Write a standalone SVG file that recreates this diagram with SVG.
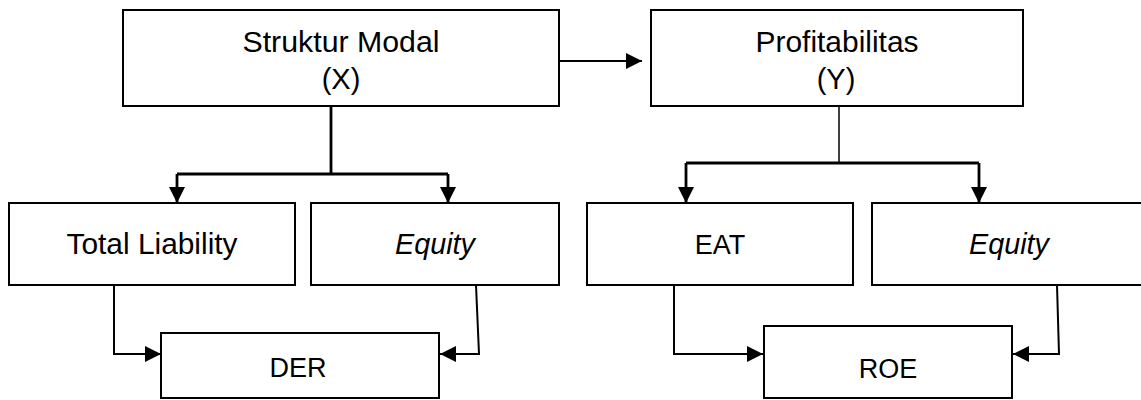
<svg xmlns="http://www.w3.org/2000/svg" width="1141" height="400" viewBox="0 0 1141 400">
<style>
.box{fill:#fff;stroke:#000;stroke-width:2}
.t{font-family:"Liberation Sans",Arial,sans-serif;font-size:29px;fill:#000;text-anchor:middle}
.s{font-size:27px}
.i{font-style:italic}
.c{fill:none;stroke:#000;stroke-width:2}
.ct{fill:none;stroke:#000;stroke-width:2.8}
.cn{fill:none;stroke:#000;stroke-width:1.5}
</style>
<defs>
<marker id="ah" markerUnits="userSpaceOnUse" markerWidth="17" markerHeight="17" refX="16" refY="8" orient="auto">
<path d="M0,0 L16,8 L0,16 z" fill="#000"/>
</marker>
</defs>
<rect width="1141" height="400" fill="#fff"/>
<g id="connectors">
<path class="ct" d="M331,106 V174"/>
<path class="ct" d="M177,174 H448"/>
<path class="ct" d="M177,174 V203" marker-end="url(#ah)"/>
<path class="ct" d="M448,174 V203" marker-end="url(#ah)"/>
<path class="c" d="M559,61 H642" marker-end="url(#ah)"/>
<path class="cn" d="M839,106 V163"/>
<path class="ct" d="M686,163 H979"/>
<path class="ct" d="M686,163 V203" marker-end="url(#ah)"/>
<path class="ct" d="M979,163 V203" marker-end="url(#ah)"/>
<path class="c" d="M114,285 V354 H161" marker-end="url(#ah)"/>
<path class="c" d="M476,285 L479,354 H440" marker-end="url(#ah)"/>
<path class="c" d="M674,285 V354 H763" marker-end="url(#ah)"/>
<path class="c" d="M1057,285 L1059,354 H1013" marker-end="url(#ah)"/>
</g>
<g id="struktur-modal">
<rect class="box" x="123" y="10" width="436" height="96"/>
<text class="t" x="341" y="52" textLength="197" lengthAdjust="spacingAndGlyphs">Struktur Modal</text>
<text class="t" x="341" y="89">(X)</text>
</g>
<g id="profitabilitas">
<rect class="box" x="651" y="10" width="372" height="96"/>
<text class="t" x="837" y="52" textLength="163" lengthAdjust="spacingAndGlyphs">Profitabilitas</text>
<text class="t" x="836" y="89">(Y)</text>
</g>
<g id="total-liability">
<rect class="box" x="9" y="203" width="286" height="82"/>
<text class="t" x="152" y="254" textLength="171" lengthAdjust="spacingAndGlyphs">Total Liability</text>
</g>
<g id="equity-left">
<rect class="box" x="311" y="203" width="248" height="82"/>
<text class="t i" x="435" y="254" textLength="80" lengthAdjust="spacingAndGlyphs">Equity</text>
</g>
<g id="eat">
<rect class="box" x="587" y="203" width="266" height="82"/>
<text class="t s" x="720" y="254">EAT</text>
</g>
<g id="equity-right">
<rect class="box" x="872" y="203" width="275" height="82"/>
<text class="t i" x="1009" y="254" textLength="80" lengthAdjust="spacingAndGlyphs">Equity</text>
</g>
<g id="der">
<rect class="box" x="161" y="333" width="278" height="65"/>
<text class="t s" x="298" y="377">DER</text>
</g>
<g id="roe">
<rect class="box" x="764" y="326" width="248" height="72"/>
<text class="t s" x="888" y="378">ROE</text>
</g>
</svg>
